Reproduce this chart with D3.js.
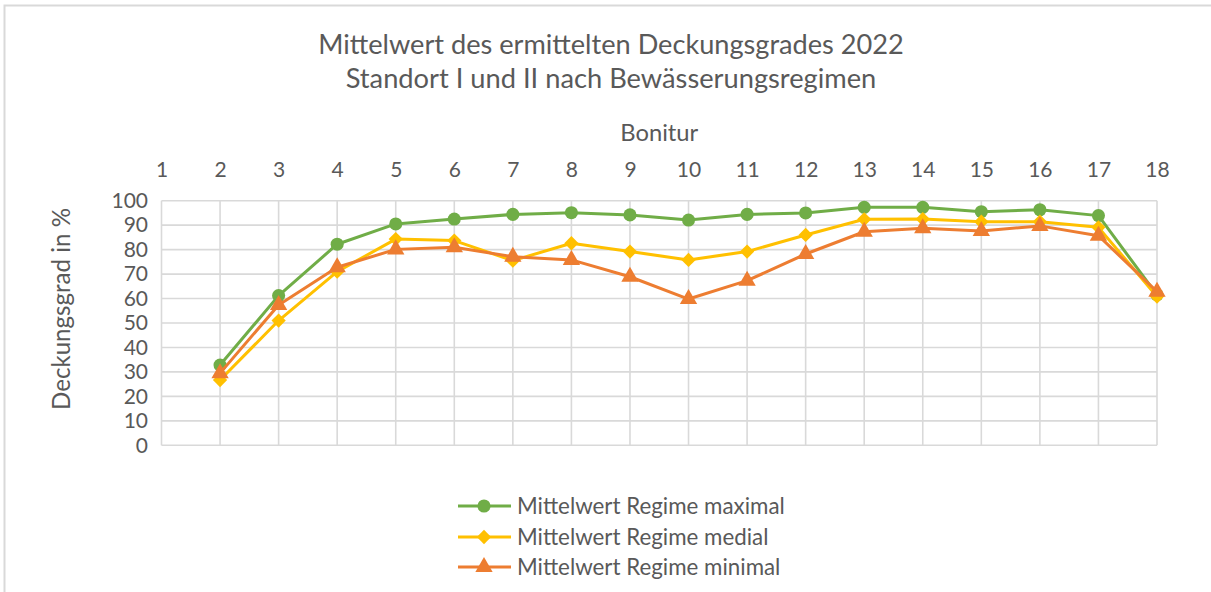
<!DOCTYPE html>
<html><head><meta charset="utf-8">
<script src="https://cdn.jsdelivr.net/npm/d3@7"></script>
<style>
html,body{margin:0;padding:0;background:#fff;}
svg{display:block;}
text{font-family:Lato, "Open Sans", sans-serif;fill:#595959;}
</style></head>
<body>
<svg id="chart" width="1211" height="592"></svg>
<script>
const categories = [1,2,3,4,5,6,7,8,9,10,11,12,13,14,15,16,17,18];
const seriesNames = ["Mittelwert Regime maximal","Mittelwert Regime medial","Mittelwert Regime minimal"];
const maximal = [null,32.8,61.2,82.2,90.5,92.5,94.4,95.1,94.2,92.1,94.4,95.0,97.3,97.3,95.5,96.3,93.9,61.5];
const medial  = [null,26.7,51.0,71.0,84.3,83.7,75.5,82.6,79.2,75.8,79.2,86.0,92.4,92.5,91.4,91.4,89.1,60.8];
const minimal = [null,29.5,57.4,72.8,80.1,81.0,77.1,75.8,68.9,59.8,67.3,78.2,87.3,88.7,87.6,89.7,85.7,62.8];
const yTicks = [0,10,20,30,40,50,60,70,80,90,100];
const titleLines = ["Mittelwert des ermittelten Deckungsgrades 2022","Standort I und II nach Bewässerungsregimen"];
const xTitle = "Bonitur";
const yTitle = "Deckungsgrad in %";

(function(){
const colors = ["#70ad47","#ffc000","#ed7d31"];
const markers = [d3.symbolCircle, d3.symbolDiamond2 || d3.symbolDiamond, d3.symbolTriangle];
const data = [maximal, medial, minimal];

const svg = d3.select("#chart");
const pL = 161.5, pR = 1157, pT = 200.7, pB = 445.3;
const x = d3.scalePoint().domain(categories).range([pL, pR]);
const y = d3.scaleLinear().domain([0,100]).range([pB, pT]);

function fit(sel, w) {
  const fs = parseFloat(sel.attr("font-size"));
  const cur = sel.node().getComputedTextLength();
  const nfs = fs * w / cur;
  sel.attr("font-size", nfs);
  return nfs;
}

svg.append("rect").attr("x",4.5).attr("y",5.5).attr("width",1230).attr("height",620)
  .attr("fill","none").attr("stroke","#d9d9d9").attr("stroke-width",2);

const grid = svg.append("g").attr("stroke","#d9d9d9").attr("stroke-width",1.6);
yTicks.forEach(t => grid.append("line").attr("x1",pL).attr("x2",pR).attr("y1",y(t)).attr("y2",y(t)));
categories.forEach(c => grid.append("line").attr("x1",x(c)).attr("x2",x(c)).attr("y1",pT).attr("y2",pB));

const xAxis = svg.append("g").attr("transform",`translate(0,${pT-31})`)
  .call(d3.axisTop(x).tickSize(0).tickPadding(0));
xAxis.select(".domain").remove();
xAxis.selectAll("text").attr("font-size",21).attr("fill","#595959").attr("dy","0.35em")
  .style("font-family","Lato, sans-serif");

const yAxis = svg.append("g").attr("transform",`translate(148,0)`)
  .call(d3.axisLeft(y).tickValues(yTicks).tickSize(0).tickPadding(0));
yAxis.select(".domain").remove();
yAxis.selectAll("text").attr("font-size",21).attr("fill","#595959")
  .style("font-family","Lato, sans-serif");

const line = d3.line().defined(d => d[1] != null).x(d => x(d[0])).y(d => y(d[1]));
const sizes = [135, 130, 130];
data.forEach((vals, i) => {
  const pts = categories.map((c, j) => [c, vals[j]]);
  svg.append("path").datum(pts).attr("d", line).attr("fill","none")
    .attr("stroke", colors[i]).attr("stroke-width", 3).attr("stroke-linejoin","round");
  svg.append("g").selectAll("path").data(pts.filter(p => p[1] != null)).join("path")
    .attr("transform", p => `translate(${x(p[0])},${y(p[1])})`)
    .attr("d", d3.symbol().type(markers[i]).size(sizes[i]))
    .attr("fill", colors[i]);
});

const t1 = svg.append("text").attr("x",611).attr("y",54).attr("text-anchor","middle")
  .attr("font-size",25).text(titleLines[0]);
fit(t1, 586);
const t2 = svg.append("text").attr("x",611).attr("y",88).attr("text-anchor","middle")
  .attr("font-size",25).text(titleLines[1]);
fit(t2, 531);
const xt = svg.append("text").attr("x",(pL+pR)/2).attr("y",141).attr("text-anchor","middle")
  .attr("font-size",22).text(xTitle);
fit(xt, 78);
const yt = svg.append("text").attr("transform","translate(70,309) rotate(-90)").attr("text-anchor","middle")
  .attr("font-size",22).text(yTitle);
fit(yt, 202);

const legY = [506, 537, 567];
let legFs = 20;
seriesNames.forEach((n, i) => {
  const g = svg.append("g").attr("transform",`translate(0,${legY[i]})`);
  g.append("line").attr("x1",458).attr("x2",511).attr("y1",0).attr("y2",0)
    .attr("stroke",colors[i]).attr("stroke-width",3);
  g.append("path").attr("transform","translate(484,0)")
    .attr("d", d3.symbol().type(markers[i]).size(sizes[i])).attr("fill",colors[i]);
  const tx = g.append("text").attr("x",517).attr("y",0).attr("dy","0.35em")
    .attr("font-size",legFs).text(n);
  if (i === 0) legFs = fit(tx, 268);
});
})();
</script>
</body></html>
